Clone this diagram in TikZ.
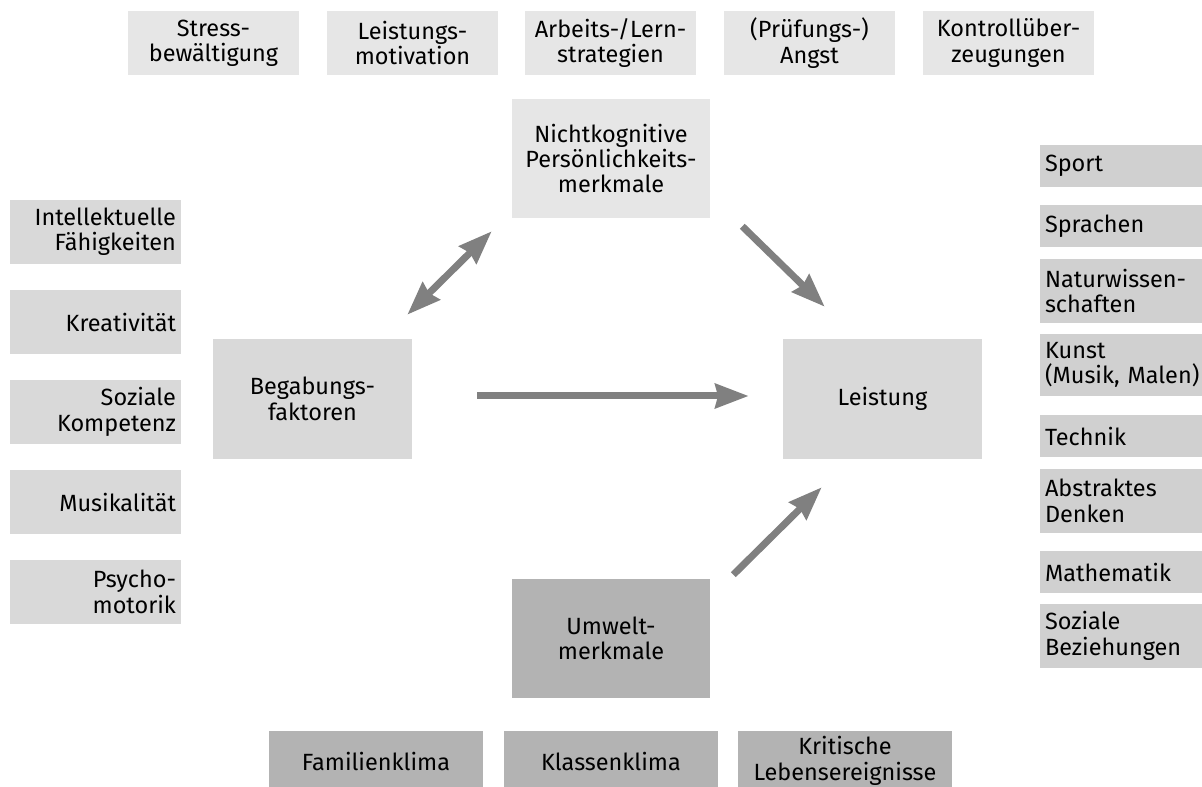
\documentclass[tikz,border=0pt]{standalone}
\usepackage{fontspec}
\setmainfont{Fira Sans}
\usetikzlibrary{arrows.meta,calc}
\definecolor{clight}{HTML}{E6E6E6}
\definecolor{cmid}{HTML}{D9D9D9}
\definecolor{cright}{HTML}{D0D0D0}
\definecolor{cdark}{HTML}{B3B3B3}
\definecolor{carrow}{HTML}{808080}
\newcommand\bx[7]{%
  \node[#6, minimum width={(#4-#2)*0.75pt}, minimum height={(#5-#3)*0.75pt},
        text width={(#4-#2-10)*0.75pt}] (#1) at ({(#2+#4)/2},{(#3+#5)/2}) {#7};}
\begin{document}
\begin{tikzpicture}[x=0.75pt,y=-0.75pt,
  box/.style={inner xsep=3.75pt, inner ysep=0pt, font=\fontsize{17.6pt}{19pt}\selectfont},
  topbox/.style={box, fill=clight, align=center},
  leftbox/.style={box, fill=cmid, align=right},
  rightbox/.style={box, fill=cright, align=left},
  midbox/.style={box, fill=cmid, align=center},
  darkbox/.style={box, fill=cdark, align=center},
  arr/.style={draw=carrow, line width=5.25pt, -{Stealth[length=25pt, width=18pt, inset=2pt, fill=carrow]}},
  darr/.style={draw=carrow, line width=5.25pt, {Stealth[length=25pt, width=18pt, inset=2pt, fill=carrow]}-{Stealth[length=25pt, width=18pt, inset=2pt, fill=carrow]}}]
\useasboundingbox (0,0) rectangle (1202,787);
% top row
\bx{t1}{128}{11}{299}{75}{topbox}{Stress-\\bewältigung}
\bx{t2}{327}{11}{498}{75}{topbox}{Leistungs-\\motivation}
\bx{t3}{525}{11}{696}{75}{topbox}{Arbeits-/Lern-\\strategien}
\bx{t4}{724}{11}{895}{75}{topbox}{(Prüfungs-)\\Angst}
\bx{t5}{923}{11}{1094}{75}{topbox}{Kontrollüber-\\zeugungen}
% centre
\bx{nk}{512}{99}{710}{218}{topbox}{Nichtkognitive\\Persönlichkeits-\\merkmale}
\bx{beg}{213}{339}{412}{459}{midbox}{Begabungs-\\faktoren}
\bx{lei}{783}{339}{982}{459}{midbox}{Leistung}
\bx{umw}{512}{579}{710}{698}{darkbox}{Umwelt-\\merkmale}
% left column
\bx{l1}{10}{200}{181}{264}{leftbox}{Intellektuelle\\Fähigkeiten}
\bx{l2}{10}{290}{181}{354}{leftbox}{Kreativität}
\bx{l3}{10}{380}{181}{444}{leftbox}{Soziale\\Kompetenz}
\bx{l4}{10}{470}{181}{534}{leftbox}{Musikalität}
\bx{l5}{10}{560}{181}{624}{leftbox}{Psycho-\\motorik}
% right column
\bx{r1}{1040}{145}{1206}{187}{rightbox}{Sport}
\bx{r2}{1040}{205}{1206}{247}{rightbox}{Sprachen}
\bx{r3}{1040}{259}{1206}{323}{rightbox}{Naturwissen-\\schaften}
\bx{r4}{1040}{334}{1206}{396}{rightbox}{Kunst\\(Musik, Malen)}
\bx{r5}{1040}{415}{1206}{457}{rightbox}{Technik}
\bx{r6}{1040}{469}{1206}{533}{rightbox}{Abstraktes\\Denken}
\bx{r7}{1040}{551}{1206}{593}{rightbox}{Mathematik}
\bx{r8}{1040}{604}{1206}{668}{rightbox}{Soziale\\Beziehungen}
% bottom row
\bx{b1}{269}{731}{483}{791}{darkbox}{Familienklima}
\bx{b2}{504}{731}{718}{791}{darkbox}{Klassenklima}
\bx{b3}{738}{731}{952}{791}{darkbox}{Kritische\\Lebensereignisse}
% arrows
\draw[darr] ($(beg.north east)+(-5,-24)$) -- ($(nk.south west)+(-20,13)$);
\draw[arr] ($(nk.south east)+(32,8)$) -- ($(lei.north west)+(42,-32)$);
\draw[arr] ($(beg.east)+(65,-3)$) -- ($(lei.west)+(-34,-3)$);
\draw[arr] ($(umw.north east)+(23,-4)$) -- ($(lei.south west)+(39,28)$);
\end{tikzpicture}
\end{document}
